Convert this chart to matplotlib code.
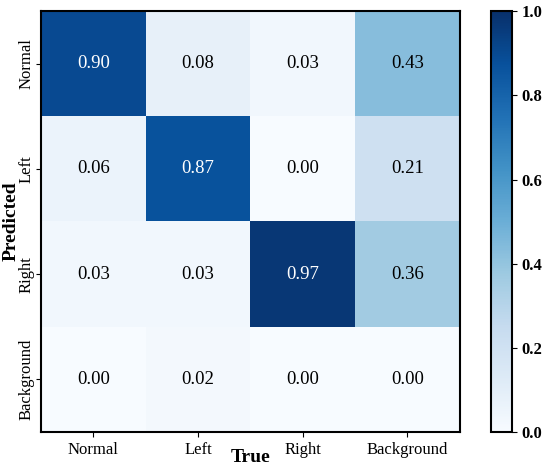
import matplotlib
matplotlib.use("Agg")
import matplotlib.pyplot as plt
import numpy as np

plt.rcParams["font.family"] = ["Liberation Serif", "DejaVu Serif"]

# confusion matrix values (rows = predicted, cols = true)
classes = ["Normal", "Left", "Right", "Background"]
row_normal = [0.90, 0.08, 0.03, 0.43]
row_left = [0.06, 0.87, 0.00, 0.21]
row_right = [0.03, 0.03, 0.97, 0.36]
row_background = [0.00, 0.02, 0.00, 0.00]
cm = np.array([row_normal, row_left, row_right, row_background])

fig = plt.figure(figsize=(5.5, 4.67), dpi=100)
ax = fig.add_axes([0.0745, 0.075, 0.7615, 0.901])
cax = fig.add_axes([0.893, 0.075, 0.038, 0.901])

im = ax.imshow(cm, cmap="Blues", vmin=0, vmax=1, aspect="auto")

for i in range(cm.shape[0]):
    for j in range(cm.shape[1]):
        v = cm[i, j]
        ax.text(j, i, f"{v:.2f}", ha="center", va="center", fontsize=13.5,
                color="white" if v > 0.5 else "black")

ax.set_xticks(range(len(classes)))
ax.set_xticklabels(classes, fontsize=12)
ax.set_yticks(range(len(classes)))
ax.set_yticklabels(classes, fontsize=12, rotation=90, va="center")
ax.tick_params(axis="y", pad=1.5)
ax.set_xlabel("True", fontsize=14, fontweight="bold", labelpad=-6)
ax.set_ylabel("Predicted", fontsize=14, fontweight="bold", labelpad=-1)
for s in ax.spines.values():
    s.set_linewidth(1.5)

cb = fig.colorbar(im, cax=cax)
cb.set_ticks([0.0, 0.2, 0.4, 0.6, 0.8, 1.0])
cb.ax.tick_params(labelsize=12)
for t in cb.ax.get_yticklabels():
    t.set_fontweight("bold")
cb.outline.set_linewidth(1.5)

fig.savefig("out.png", dpi=100)
